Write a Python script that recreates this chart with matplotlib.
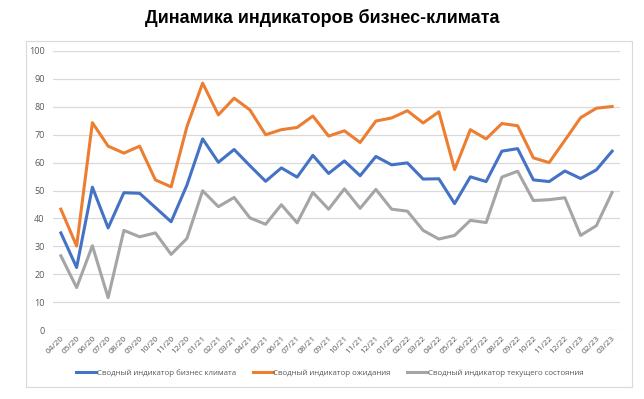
import matplotlib
matplotlib.use('Agg')
import matplotlib.pyplot as plt
from matplotlib.patches import Rectangle

# месяцы 04/20 .. 03/23
months = ['04/20', '05/20', '06/20', '07/20', '08/20', '09/20', '10/20', '11/20', '12/20',
          '01/21', '02/21', '03/21', '04/21', '05/21', '06/21', '07/21', '08/21', '09/21',
          '10/21', '11/21', '12/21', '01/22', '02/22', '03/22', '04/22', '05/22', '06/22',
          '07/22', '08/22', '09/22', '10/22', '11/22', '12/22', '01/23', '02/23', '03/23']

business = [34.8, 22.4, 51.2, 36.6, 49.2, 49.0, 43.9, 38.8, 51.9,
            68.5, 60.1, 64.7, 58.9, 53.3, 58.1, 54.8, 62.6, 56.1,
            60.6, 55.3, 62.2, 59.2, 59.9, 54.1, 54.2, 45.3, 54.9,
            53.2, 64.1, 65.0, 53.8, 53.2, 57.0, 54.3, 57.4, 64.1]

expectations = [43.3, 30.1, 74.3, 65.9, 63.4, 65.9, 53.8, 51.3, 72.8,
                88.5, 77.1, 83.1, 78.9, 70.0, 71.8, 72.6, 76.7, 69.5,
                71.4, 67.2, 74.9, 76.0, 78.6, 74.2, 78.2, 57.5, 71.8,
                68.5, 74.0, 73.2, 61.7, 60.0, 68.0, 76.1, 79.5, 80.1]

current = [26.6, 15.2, 30.2, 11.6, 35.7, 33.4, 34.8, 27.1, 32.8,
           49.9, 44.2, 47.5, 40.2, 37.9, 44.9, 38.4, 49.3, 43.3,
           50.6, 43.6, 50.4, 43.3, 42.6, 35.7, 32.6, 33.9, 39.3,
           38.5, 54.8, 56.9, 46.4, 46.7, 47.4, 33.9, 37.4, 49.3]

series_names = ['Сводный индикатор бизнес климата',
                'Сводный индикатор ожидания',
                'Сводный индикатор текущего состояния']
colors = ['#4472C4', '#ED7D31', '#A5A5A5']

W, H = 644, 399
fig = plt.figure(figsize=(W / 100, H / 100), dpi=100)

# рамка диаграммы
fig.patches.append(Rectangle((25.7 / W, 1 - 387 / H), (632 - 25.7) / W, (387 - 40.7) / H,
                             transform=fig.transFigure, fill=False, edgecolor='#D9D9D9', linewidth=0.8))

ax = fig.add_axes([53 / W, 1 - 330 / H, (620 - 53) / W, (330 - 51) / H])

x = list(range(len(months)))
for vals, name, c in zip([business, expectations, current], series_names, colors):
    ax.plot(x, vals, color=c, linewidth=2.2, label=name, solid_joinstyle='round')

ax.set_xlim(-0.5, len(months) - 0.5)
ax.set_ylim(0, 100)
ax.set_yticks(range(0, 101, 10))
ax.grid(axis='y', color='#D9D9D9', linewidth=0.9)
ax.set_axisbelow(True)
for s in ax.spines.values():
    s.set_visible(False)
ax.tick_params(length=0, colors='#595959', labelsize=6.5)
ax.tick_params(axis='y', pad=6)
ax.set_xticks(x)
ax.set_xticklabels(months, rotation=45, ha='right', rotation_mode='anchor', fontsize=6)
for lbl in ax.get_xticklabels() + ax.get_yticklabels():
    lbl.set_family('Open Sans')

fig.text(322 / W, 1 - 18 / H, 'Динамика индикаторов бизнес-климата', ha='center', va='center',
         fontsize=12.9, fontweight='bold', family='Liberation Sans')

leg = fig.legend(loc='center', bbox_to_anchor=(330 / W, 1 - 373 / H), ncol=3, frameon=False,
                 prop={'family': 'Open Sans', 'size': 5.7}, handlelength=2.5, handletextpad=0.1,
                 columnspacing=2.1, labelcolor='#595959')

fig.savefig('out.png', dpi=100)
